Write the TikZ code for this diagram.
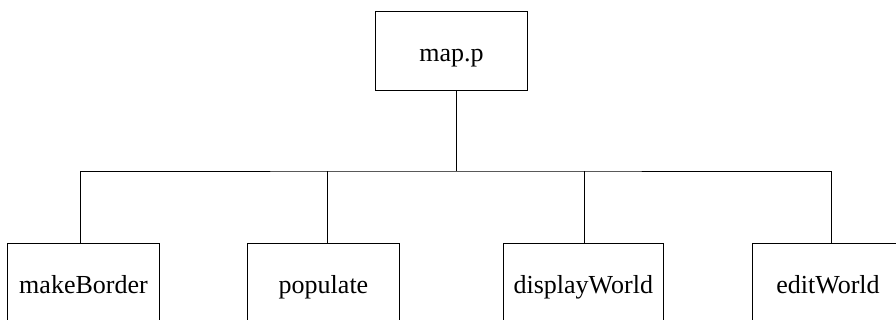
\documentclass[tikz,border=0pt]{standalone}
\usepackage{fontspec}
\setmainfont{Liberation Serif}
\begin{document}
\begin{tikzpicture}[x=1pt,y=1pt,
  box/.style={draw=black, line width=0.9pt, rectangle, inner sep=0pt,
    minimum width=152pt, minimum height=78.7pt,
    text height=26pt, text depth=5pt,
    font=\fontsize{26}{30}\selectfont},
  conn/.style={draw=black, line width=0.9pt}]
\useasboundingbox (0,0) rectangle (896,-320);
\node[box] (top) at (451.5,-50.65) {map.p};
\node[box] (mb) at (83.5,-282.65) {makeBorder};
\node[box] (pop) at (323.5,-282.65) {populate};
\node[box, minimum width=160pt] (dw) at (583.3,-282.65) {displayWorld};
\node[box] (ew) at (828,-282.65) {editWorld};
\coordinate (j) at (456,-171);
\coordinate (a1) at (80,-243.3);
\coordinate (a2) at (327.7,-243.3);
\coordinate (a3) at (584.3,-243.3);
\coordinate (a4) at (831.7,-243.3);
\draw[conn] (top.south -| j) -- (j);
\draw[conn] (a1) |- (j) -| (a4);
\draw[conn] (a2) -- (a2 |- j);
\draw[conn] (a3) -- (a3 |- j);
\end{tikzpicture}
\end{document}
